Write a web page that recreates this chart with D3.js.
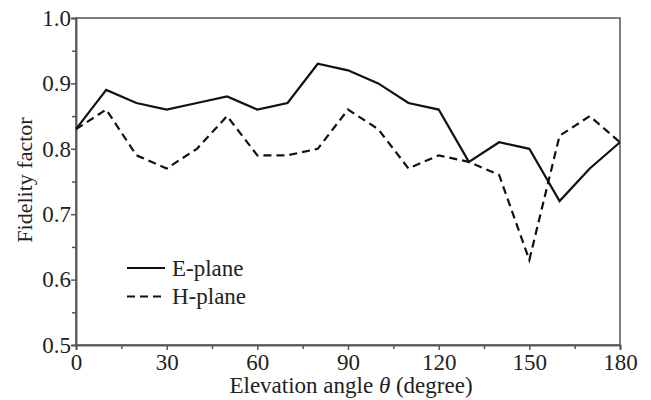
<!DOCTYPE html>
<html><head><meta charset="utf-8">
<script src="https://cdn.jsdelivr.net/npm/d3@7"></script>
<style>body{margin:0;background:#fff}svg{display:block}</style>
</head><body><svg id="c" width="651" height="400"></svg>
<script>
const angles = [0,10,20,30,40,50,60,70,80,90,100,110,120,130,140,150,160,170,180];
const ePlane = [0.83,0.89,0.87,0.86,0.87,0.88,0.86,0.87,0.93,0.92,0.90,0.87,0.86,0.78,0.81,0.80,0.72,0.77,0.81];
const hPlane = [0.83,0.86,0.79,0.77,0.80,0.85,0.79,0.79,0.80,0.86,0.83,0.77,0.79,0.78,0.76,0.63,0.82,0.85,0.81];
const xTicks = [0,30,60,90,120,150,180];
const yTicks = [0.5,0.6,0.7,0.8,0.9,1.0];
const seriesNames = ["E-plane","H-plane"];

const FONT = "'Liberation Serif', 'Times New Roman', Times, serif";
const svg = d3.select("#c").attr("font-family", FONT);
const L=76,R=620,T=18,B=345;
const x = d3.scaleLinear().domain([0,180]).range([L,R]);
const y = d3.scaleLinear().domain([0.5,1.0]).range([B,T]);
const axisCol="#555";

svg.append("rect").attr("x",L).attr("y",T).attr("width",R-L).attr("height",B-T)
  .attr("fill","none").attr("stroke",axisCol).attr("stroke-width",1.5);

const gx = svg.append("g").attr("transform",`translate(0,${B})`)
  .call(d3.axisBottom(x).tickValues(d3.range(15,180,30)).tickSize(4).tickFormat(""));
const gy = svg.append("g").attr("transform",`translate(${L},0)`)
  .call(d3.axisLeft(y).tickValues([0.55,0.65,0.75,0.85,0.95]).tickSize(4).tickFormat(""));
const gx2 = svg.append("g").attr("transform",`translate(0,${B})`)
  .call(d3.axisBottom(x).tickValues(xTicks).tickSize(5).tickPadding(4).tickFormat(d=>d));
const gy2 = svg.append("g").attr("transform",`translate(${L},0)`)
  .call(d3.axisLeft(y).tickValues(yTicks).tickSize(5).tickPadding(0).tickFormat(d3.format(".1f")));
[gx,gy,gx2,gy2].forEach(g=>{
  g.attr("font-family", FONT).attr("font-size", 23);
  g.select(".domain").attr("stroke",axisCol).attr("stroke-width",1.5);
  g.selectAll(".tick line").attr("stroke",axisCol).attr("stroke-width",1.5);
  g.selectAll(".tick text").attr("fill","#222");
});

const line = d3.line().x((d,i)=>x(angles[i])).y(d=>y(d));
svg.append("path").datum(ePlane).attr("d",line).attr("fill","none").attr("stroke","#111").attr("stroke-width",2.2);
svg.append("path").datum(hPlane).attr("d",line).attr("fill","none").attr("stroke","#111").attr("stroke-width",2.2).attr("stroke-dasharray","8,5");

const lg = svg.append("g");
[0,1].forEach(i=>{
  const yy = 268 + i*28.5;
  lg.append("line").attr("x1",127).attr("x2",165).attr("y1",yy).attr("y2",yy)
    .attr("stroke","#111").attr("stroke-width",2.2).attr("stroke-dasharray", i? "8,5" : null);
  lg.append("text").attr("x",172).attr("y",yy+7.5).attr("font-size",23).attr("fill","#222").text(seriesNames[i]);
});

const xt = svg.append("text").attr("x",(L+R)/2+3).attr("y",393).attr("text-anchor","middle").attr("font-size",23).attr("fill","#222");
xt.append("tspan").text("Elevation angle ");
xt.append("tspan").attr("font-style","italic").text("θ");
xt.append("tspan").text(" (degree)");
svg.append("text").attr("transform","translate(32,180) rotate(-90)").attr("text-anchor","middle").attr("font-size",22).attr("fill","#222").text("Fidelity factor");
</script></body></html>
